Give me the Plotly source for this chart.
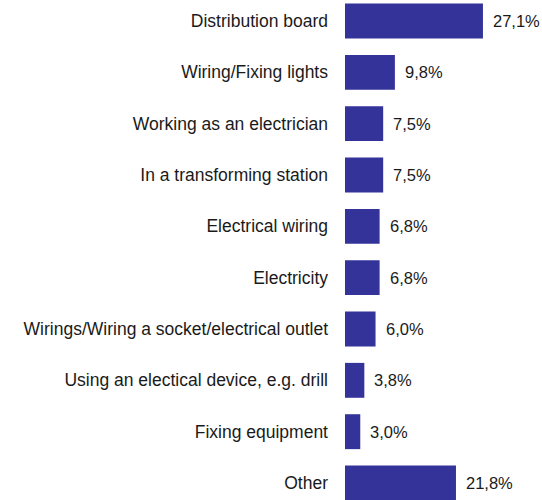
import plotly.graph_objects as go

categories = [
    "Distribution board",
    "Wiring/Fixing lights",
    "Working as an electrician",
    "In a transforming station",
    "Electrical wiring",
    "Electricity",
    "Wirings/Wiring a socket/electrical outlet",
    "Using an electical device, e.g. drill",
    "Fixing equipment",
    "Other",
]
values = [27.1, 9.8, 7.5, 7.5, 6.8, 6.8, 6.0, 3.8, 3.0, 21.8]
labels = [f"{v:.1f}%".replace(".", ",") for v in values]

FONT = "Liberation Sans, Arial, sans-serif"
FS = 17.5
VFS = 16.5
BAR = "#333399"
TXT = "#1a1a1a"

fig = go.Figure(go.Bar(
    x=values, y=categories, orientation="h",
    marker=dict(color=BAR, line=dict(width=0)),
    width=0.68, hoverinfo="skip",
))

for c, v, t in zip(categories, values, labels):
    fig.add_annotation(x=v, y=c, text=t, showarrow=False, xanchor="left",
                       xshift=8, font=dict(family=FONT, size=VFS, color=TXT))

fig.update_layout(
    width=542, height=500,
    margin=dict(l=345, r=0, t=0, b=0, autoexpand=False),
    paper_bgcolor="white", plot_bgcolor="white",
    showlegend=False,
    font=dict(family=FONT, size=FS, color=TXT),
    xaxis=dict(range=[0, 38.7], visible=False, fixedrange=True),
    yaxis=dict(categoryorder="array", categoryarray=categories,
               range=[9.331, -0.409], showgrid=False, zeroline=False,
               showline=False, ticks="", ticklabelstandoff=16, automargin=False,
               tickfont=dict(family=FONT, size=FS, color=TXT)),
)

# remove the default page margin so the 542x500 figure fills the window exactly
fig.write_html(
    "out.html",
    config=dict(displayModeBar=False, staticPlot=True),
    post_script="document.body.style.margin='0';document.body.style.overflow='hidden';",
)
